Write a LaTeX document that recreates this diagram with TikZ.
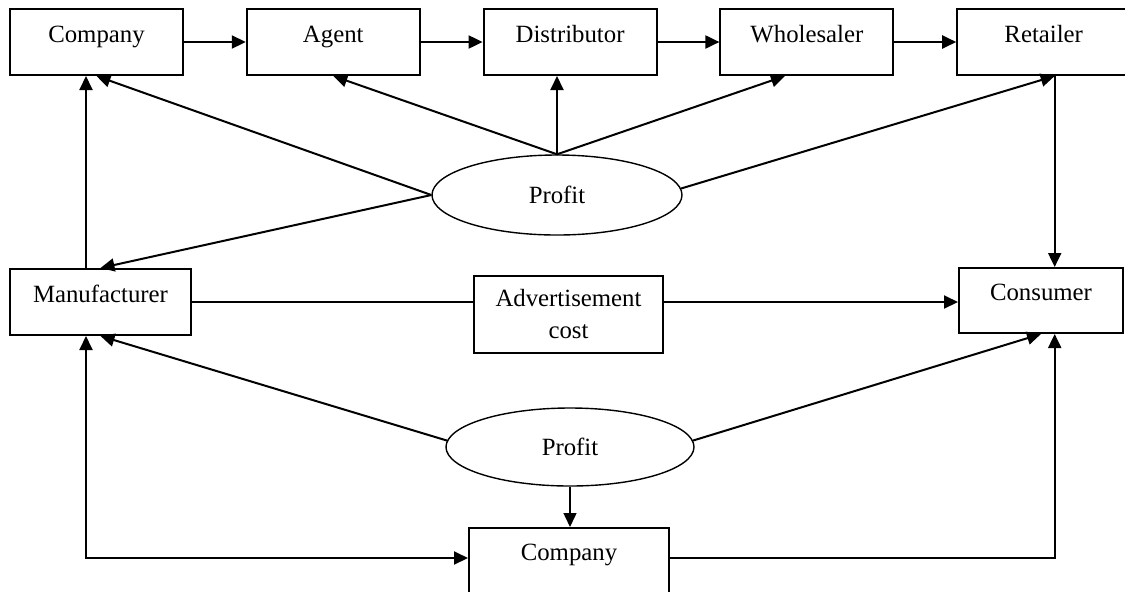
\documentclass[tikz,border=0pt]{standalone}
\usepackage{fontspec}
\setmainfont{Liberation Serif}
\usetikzlibrary{positioning, arrows.meta, shapes.geometric}

\begin{document}
\begin{tikzpicture}[
      x=0.5pt, y=-0.5pt,
      node distance=5mm and 30.9pt,
      font=\fontsize{12.4pt}{16pt}\selectfont,
      box/.style={draw, line width=1pt, align=center, minimum width=86.5pt, minimum height=33pt, inner sep=2pt},
      topbox/.style={box, text height=8pt, text depth=8pt},
      oval/.style={draw, ellipse, line width=0.7pt, minimum width=125pt, minimum height=40pt, inner sep=0pt},
      arr/.style={line width=1pt, -{Triangle[length=7pt, width=6.5pt]}},
      twoway/.style={line width=1pt, {Triangle[length=7pt, width=6.5pt]}-{Triangle[length=7pt, width=6.5pt]}},
      thinline/.style={line width=0.7pt}
    ]
    \clip (0,0) rectangle (1125,591);
    % Nodes
    \node[topbox] (comp) at (96.5,42) {Company};
    \node[topbox, right=of comp] (agent) {Agent};
    \node[topbox, right=of agent] (dist) {Distributor};
    \node[topbox, right=of dist] (whole) {Wholesaler};
    \node[topbox, right=of whole] (ret) {Retailer};

    \node[oval] (profitA) at (557,195) {Profit};

    \node[topbox, minimum width=90.5pt] (mfr) at (100.5,302) {Manufacturer};
    \node[box, minimum width=94.5pt, minimum height=38.5pt] (adv) at (568.5,314.5) {Advertisement\\cost};
    \node[topbox, minimum width=82pt, minimum height=32.5pt] (cons) at (1041,300.5) {Consumer};

    \node[oval, minimum width=124pt, minimum height=39pt] (profitB) at (570,447) {Profit};
    \node[box, anchor=north, minimum width=100pt, minimum height=40pt, text height=8pt, text depth=16pt] (comp2) at (569,527) {Company};

    % Edges
    \draw[arr] (comp) -- (agent);
    \draw[arr] (agent) -- (dist);
    \draw[arr] (dist) -- (whole);
    \draw[arr] (whole) -- (ret);
    \draw[arr] (profitA.north) -- (agent.south);
    \draw[arr] (profitA.north) -- (profitA.north |- dist.south);
    \draw[arr] (profitA.north) -- ([xshift=-11pt]whole.south);
    \draw[arr] (profitA.3) -- ([xshift=5.5pt]ret.south);
    \draw[arr] (profitA.west) -- (comp.south);
    \draw[arr] (profitA.west) -- (mfr.north);
    \draw[arr] ([xshift=-7.25pt]mfr.north) -- ([xshift=-7.25pt]mfr.north |- comp.south);
    \draw[arr] ([xshift=5.5pt]ret.south) -- ([xshift=5.5pt]ret.south |- cons.north);

    \draw[thinline] (mfr.east) -- (mfr.east -| adv.west);
    \draw[arr] (mfr.east -| adv.east) -- (mfr.east -| cons.west);

    \draw[arr] (profitB.177) -- (mfr.south);
    \draw[arr] (profitB.3) -- (cons.south);
    \draw[arr, line width=0.7pt] (profitB.south) -- (profitB.south |- comp2.north);
    \draw[twoway] ([xshift=-7.25pt]mfr.south) |- ([yshift=5pt]comp2.west);
    \draw[arr] ([yshift=5pt]comp2.east) -| ([xshift=5.5pt]ret.south |- cons.south);
  \end{tikzpicture}
\end{document}
